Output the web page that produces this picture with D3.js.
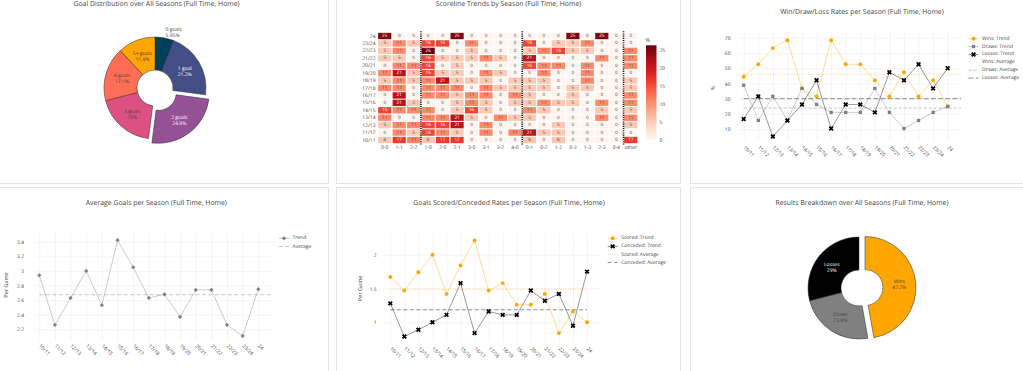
<!DOCTYPE html>
<html>
<head>
<meta charset="utf-8">
<script src="https://cdn.jsdelivr.net/npm/d3@7/dist/d3.min.js"></script>
<style>
html,body{margin:0;padding:0;background:#fff;}
svg{display:block;}
text{text-rendering:geometricPrecision;}
</style>
</head>
<body>
<svg id="chart" width="1023" height="371"></svg>
<script>
// ================= DATA =================
const seasons = ["10/11","11/12","12/13","13/14","14/15","15/16","16/17","17/18","18/19","19/20","20/21","21/22","22/23","23/24","24"];
const winRate  = [44.4,52.6,63.2,68.4,36.8,31.6,68.4,52.6,52.6,42.1,31.6,47.4,31.6,42.1,25.0];
const drawRate = [38.9,15.8,31.6,15.8,36.8,26.3,21.1,21.1,21.1,36.8,21.1,10.5,15.8,21.1,25.0];
const lossRate = [16.7,31.6,5.3,15.8,26.3,42.1,10.5,26.3,26.3,21.1,47.4,42.1,52.6,36.8,50.0];
const goalsPerGame    = [2.94,2.26,2.63,3.00,2.53,3.42,3.05,2.63,2.68,2.37,2.74,2.74,2.26,2.11,2.75];
const scoredPerGame   = [1.67,1.47,1.74,2.00,1.42,1.84,2.21,1.47,1.58,1.26,1.26,1.42,0.84,1.16,1.00];
const concededPerGame = [1.28,0.79,0.89,1.00,1.11,1.58,0.84,1.16,1.11,1.11,1.47,1.32,1.42,0.95,1.75];

const goalCategories = ["0 goals","1 goal","2 goals","3 goals","4 goals","5+ goals"];
const goalShares     = [5.95,21.2,24.9,19,17.1,11.9];
const goalColors     = ["#003f5c","#444e86","#955196","#dd5182","#ff6e54","#ffa600"];

const resultCategories = ["Wins","Draws","Losses"];
const resultShares     = [47.2,23.8,29];
const resultColors     = ["#ffa600","#808080","#000000"];

const scorelines = ["0-0","1-1","2-2","1-0","2-0","2-1","3-0","3-1","3-2","4-0","0-1","0-2","1-2","0-3","1-3","2-3","0-4","other"];
// one row per season (same order as `seasons`), one value per scoreline (%)
const scorelineShares = [
  [5.6,16.7,11.1, 5.6,16.7,16.7,0,0,0,0, 5.6,0,5.6,0,0,0,0, 16.7],
  [0,10.5,5.3, 15.8,10.5,5.3,0,10.5,0,10.5, 21.1,5.3,5.3,0,0,0,0, 0],
  [5.3,10.5,10.5, 15.8,15.8,21.1,0,10.5,0,0, 0,0,5.3,0,0,0,0, 5.3],
  [10.5,0,0, 10.5,10.5,21.1,5.3,0,10.5,5.3, 5.3,0,0,0,0,10.5,0, 10.5],
  [15.8,10.5,10.5, 10.5,0,5.3,15.8,5.3,0,0, 10.5,5.3,0,0,0,5.3,0, 5.3],
  [0,21.1,5.3, 0,0,5.3,10.5,5.3,0,5.3, 5.3,10.5,5.3,5.3,0,10.5,0, 10.5],
  [0,21.1,0, 10.5,10.5,5.3,10.5,10.5,0,10.5, 5.3,0,0,5.3,0,0,0, 10.5],
  [10.5,10.5,0, 10.5,10.5,10.5,0,10.5,5.3,5.3, 5.3,5.3,0,5.3,5.3,0,0, 5.3],
  [5.3,10.5,5.3, 10.5,21.1,5.3,5.3,5.3,0,5.3, 5.3,5.3,0,0,10.5,0,0, 5.3],
  [10.5,21.1,5.3, 15.8,5.3,5.3,0,10.5,5.3,0, 0,10.5,0,0,10.5,0,0, 0],
  [0,10.5,10.5, 15.8,0,5.3,0,0,0,0, 15.8,10.5,10.5,0,10.5,0,0, 10.5],
  [5.3,5.3,0, 15.8,5.3,5.3,5.3,10.5,5.3,0, 21.1,0,0,0,0,10.5,0, 10.5],
  [5.3,10.5,0, 26.3,0,0,5.3,0,0,0, 5.3,10.5,15.8,5.3,5.3,0,0, 10.5],
  [5.3,10.5,5.3, 15.8,15.8,0,10.5,0,0,0, 15.8,0,5.3,5.3,10.5,0,0, 0],
  [25,0,0, 0,0,25,0,0,0,0, 0,0,0,25,0,25,0, 0]
];

const rateTicks     = [10,20,30,40,50,60,70];
const goalsTicks    = [2.2,2.4,2.6,2.8,3.0,3.2,3.4];
const perGameTicks  = [1,1.5,2];
const colorbarTicks = [0,5,10,15,20,25];

// ================= SETUP =================
const svg = d3.select("#chart");
const FONT = '"Open Sans", "Noto Sans", sans-serif';
const TXT = "#444";
const GRID = "#ececec";
const ORANGE = "#ffa600";
svg.style("font-family", FONT);

// card frames
const frames = [
  [-20, -20, 348.5, 203.5], [336.5, -20, 344, 203.5], [690.5, -20, 360, 203.5],
  [-20, 187.5, 348.5, 200], [336.5, 187.5, 344, 200], [690.5, 187.5, 360, 200]
];
svg.selectAll("rect.frame").data(frames).join("rect").attr("class","frame")
  .attr("x", d => d[0]).attr("y", d => d[1]).attr("width", d => d[2]).attr("height", d => d[3])
  .attr("fill", "none").attr("stroke", "#e4e4e4").attr("stroke-width", 1);

function title(txt, x, y) {
  svg.append("text").attr("x", x).attr("y", y).attr("text-anchor", "middle")
    .attr("dominant-baseline", "central").attr("font-size", 6.9).attr("fill", TXT).text(txt);
}
title("Goal Distribution over All Seasons (Full Time, Home)", 156.5, 4);
title("Scoreline Trends by Season (Full Time, Home)", 508.5, 4);
title("Win/Draw/Loss Rates per Season (Full Time, Home)", 862, 12.7);
title("Average Goals per Season (Full Time, Home)", 156.3, 203);
title("Goals Scored/Conceded Rates per Season (Full Time, Home)", 509, 203);
title("Results Breakdown over All Seasons (Full Time, Home)", 862, 203);

function symbolPath(kind, size) {
  const t = { circle: d3.symbolCircle, square: d3.symbolSquare, x: d3.symbolCross, diamond: d3.symbolSquare }[kind];
  return d3.symbol(t, size)();
}
function symbolRot(kind) { return (kind === "x" || kind === "diamond") ? 45 : 0; }

// ================= DONUTS =================
function donut(cx, cy, r0, r1, cats, vals, cols, pullIdx, pull, outsideIdx) {
  const pie = d3.pie().sort(null).value(d => d.v);
  const arcs = pie(cats.map((c, i) => ({ c, v: vals[i], col: cols[i] })));
  const arc = d3.arc().innerRadius(r0).outerRadius(r1);
  const g = svg.append("g").attr("transform", `translate(${cx},${cy})`);
  arcs.forEach((a, i) => {
    const mid = (a.startAngle + a.endAngle) / 2;
    const off = i === pullIdx ? pull : 0;
    const sg = g.append("g").attr("transform", `translate(${Math.sin(mid) * off},${-Math.cos(mid) * off})`);
    sg.append("path").attr("d", arc(a)).attr("fill", a.data.col).attr("stroke", "#2a2a2a").attr("stroke-width", 0.5);
    const light = d3.lab(a.data.col).l > 50;
    const t = sg.append("text").attr("font-size", 5).attr("text-anchor", "middle");
    let px, py;
    if (i === outsideIdx) {
      px = Math.sin(mid) * (r1 + 6); py = -Math.cos(mid) * (r1 + 6);
      t.attr("text-anchor", "start").attr("fill", TXT);
      t.append("tspan").attr("x", px).attr("y", py - 1.3).text(a.data.c);
      t.append("tspan").attr("x", px).attr("y", py + 4.7).text(a.data.v + "%");
    } else {
      [px, py] = arc.centroid(a);
      t.attr("fill", light ? TXT : "#fff");
      t.append("tspan").attr("x", px).attr("y", py - 1).text(a.data.c);
      t.append("tspan").attr("x", px).attr("y", py + 5).text(a.data.v + "%");
    }
  });
}
donut(155, 88, 18, 51, goalCategories, goalShares, goalColors, 2, 5.5, 0);
donut(859, 288, 18, 51, resultCategories, resultShares, resultColors, 0, 6, -1);

// ================= HEATMAP =================
(function () {
  const rows = seasons.slice().reverse();
  const hx = d3.scaleBand().domain(scorelines).range([377.5, 638]).paddingInner(0.09).paddingOuter(0.045);
  const hy = d3.scaleBand().domain(rows).range([32.3, 143.7]).paddingInner(0.14).paddingOuter(0.07);
  const maxV = d3.max(scorelineShares.flat());
  const color = d3.scaleSequential(d3.interpolateReds).domain([0, maxV]);
  const cells = [];
  seasons.forEach((s, si) => scorelines.forEach((c, ci) => cells.push({ s, c, v: scorelineShares[si][ci] })));
  const g = svg.append("g");
  g.selectAll("rect").data(cells).join("rect")
    .attr("x", d => hx(d.c)).attr("y", d => hy(d.s))
    .attr("width", hx.bandwidth()).attr("height", hy.bandwidth())
    .attr("fill", d => color(d.v));
  g.selectAll("text.cell").data(cells).join("text").attr("class", "cell")
    .attr("x", d => hx(d.c) + hx.bandwidth() / 2).attr("y", d => hy(d.s) + hy.bandwidth() / 2)
    .attr("text-anchor", "middle").attr("dominant-baseline", "central")
    .attr("font-size", 4.6)
    .attr("fill", d => d.v > 13 ? "#fff" : TXT)
    .text(d => Math.round(d.v));
  // group separators (draw | win | loss | other)
  const grp = c => { const m = c.match(/^(\d+)-(\d+)$/); if (!m) return "o"; return +m[1] === +m[2] ? "d" : (+m[1] > +m[2] ? "w" : "l"); };
  const seps = scorelines.slice(1).map((c, i) => ({ c, prev: scorelines[i] })).filter(d => grp(d.c) !== grp(d.prev));
  g.selectAll("line.sep").data(seps).join("line").attr("class", "sep")
    .attr("x1", d => hx(d.c) - hx.step() * 0.045).attr("x2", d => hx(d.c) - hx.step() * 0.045)
    .attr("y1", 31.2).attr("y2", 144.8)
    .attr("stroke", "#111").attr("stroke-width", 1.6).attr("stroke-dasharray", "1.1,1.1");
  // axes
  const ax = g.append("g").attr("transform", "translate(0,143.7)")
    .call(d3.axisBottom(hx).tickSize(0).tickPadding(1.5));
  ax.select(".domain").remove();
  ax.selectAll("text").attr("font-size", 5).attr("fill", TXT).style("font-family", FONT);
  const ay = g.append("g").attr("transform", "translate(377.5,0)")
    .call(d3.axisLeft(hy).tickSize(0).tickPadding(2));
  ay.select(".domain").remove();
  ay.selectAll("text").attr("font-size", 5).attr("fill", TXT).style("font-family", FONT);
  // colorbar
  const defs = svg.append("defs");
  const grad = defs.append("linearGradient").attr("id", "redsGrad").attr("x1", 0).attr("y1", 1).attr("x2", 0).attr("y2", 0);
  d3.range(0, 1.0001, 0.05).forEach(t => grad.append("stop").attr("offset", t).attr("stop-color", d3.interpolateReds(t)));
  const cb = d3.scaleLinear().domain([0, maxV]).range([140, 45.3]);
  g.append("rect").attr("x", 646).attr("y", cb(maxV)).attr("width", 10.5).attr("height", cb(0) - cb(maxV)).attr("fill", "url(#redsGrad)");
  const cbA = g.append("g").attr("transform", "translate(656.5,0)")
    .call(d3.axisRight(cb).tickValues(colorbarTicks).tickSize(0).tickPadding(3));
  cbA.select(".domain").remove();
  cbA.selectAll("text").attr("font-size", 5).attr("fill", TXT).style("font-family", FONT);
  g.append("text").attr("x", 645.5).attr("y", 40).attr("dominant-baseline", "central")
    .attr("font-size", 5.5).attr("fill", TXT).text("%");
})();

// ================= LINE PANELS =================
function linePanel(p) {
  const g = svg.append("g");
  const x = d3.scalePoint().domain(seasons).range(p.xRange);
  const y = d3.scaleLinear().domain(p.yDomain).range([p.bottom, p.top]);
  const ya = g.append("g").attr("transform", `translate(${p.gridL},0)`)
    .call(d3.axisLeft(y).tickValues(p.ticks).tickFormat(d => String(+d.toFixed(2)))
      .tickSize(-(p.gridR - p.gridL)).tickPadding(p.yPad));
  ya.select(".domain").remove();
  ya.selectAll("line").attr("stroke", GRID).attr("stroke-width", 0.6);
  ya.selectAll("text").attr("font-size", 5).attr("fill", TXT).style("font-family", FONT);
  const xa = g.append("g").attr("transform", `translate(0,${p.bottom})`)
    .call(d3.axisBottom(x).tickSize(-(p.bottom - p.top)));
  xa.select(".domain").remove();
  xa.selectAll("line").attr("stroke", GRID).attr("stroke-width", 0.6);
  xa.selectAll("text").attr("x", 0).attr("y", 0).attr("dy", "0.35em")
    .attr("transform", `translate(0,${p.xLab}) rotate(45)`).attr("text-anchor", "start")
    .attr("font-size", 5).attr("fill", TXT).style("font-family", FONT);
  g.append("text").attr("transform", `translate(${p.yTitle[0]},${p.yTitle[1]}) rotate(-90)`)
    .attr("text-anchor", "middle").attr("dominant-baseline", "central")
    .attr("font-size", 5.5).attr("fill", TXT).text(p.yLabel);
  // averages
  p.avgs.forEach(a => {
    const v = d3.mean(a.values);
    g.append("line").attr("x1", x(seasons[0])).attr("x2", p.avgEnd).attr("y1", y(v)).attr("y2", y(v))
      .attr("stroke", a.color).attr("stroke-width", 0.9).attr("stroke-dasharray", a.dash);
  });
  // trend series
  const line = d3.line().x((d, i) => x(seasons[i])).y(d => y(d));
  p.series.forEach(s => {
    g.append("path").attr("d", line(s.values)).attr("fill", "none").attr("stroke", s.line).attr("stroke-width", 0.8);
  });
  p.series.forEach(s => {
    g.selectAll(null).data(s.values).join("path")
      .attr("d", symbolPath(s.symbol, s.size))
      .attr("transform", (d, i) => `translate(${x(seasons[i])},${y(d)}) rotate(${symbolRot(s.symbol)})`)
      .attr("fill", s.color);
  });
  // legend
  const items = p.series.map(s => ({ name: s.name, line: s.line, symbol: s.symbol, color: s.color, size: s.size }))
    .concat(p.avgs.map(a => ({ name: a.name, line: a.color, dash: a.dash })));
  items.forEach((it, i) => {
    const ly = p.legY + i * p.legDy;
    g.append("line").attr("x1", p.legX).attr("x2", p.legX + 10).attr("y1", ly).attr("y2", ly)
      .attr("stroke", it.line).attr("stroke-width", 0.9).attr("stroke-dasharray", it.dash || null);
    if (it.symbol) g.append("path").attr("d", symbolPath(it.symbol, it.size))
      .attr("transform", `translate(${p.legX + 5},${ly}) rotate(${symbolRot(it.symbol)})`).attr("fill", it.color);
    g.append("text").attr("x", p.legX + 13.5).attr("y", ly).attr("dominant-baseline", "central")
      .attr("font-size", 5).attr("fill", TXT).text(it.name);
  });
}

const ORANGE_L = "rgba(255,166,0,0.5)", GRAY_L = "rgba(128,128,128,0.5)", BLACK_L = "rgba(0,0,0,0.5)";

linePanel({
  xRange: [743.7, 947.7], gridL: 739, gridR: 961, top: 32.7, bottom: 140,
  yDomain: [3, 73.3], ticks: rateTicks, yPad: 8.5, xLab: 6.5,
  yLabel: "%", yTitle: [713, 88], avgEnd: 961,
  series: [
    { name: "Wins: Trend", values: winRate, color: ORANGE, line: ORANGE_L, symbol: "circle", size: 12 },
    { name: "Draws: Trend", values: drawRate, color: "#808080", line: GRAY_L, symbol: "square", size: 11 },
    { name: "Losses: Trend", values: lossRate, color: "#000", line: BLACK_L, symbol: "x", size: 15 }
  ],
  avgs: [
    { name: "Wins: Average", values: winRate, color: ORANGE_L, dash: "1,1.4" },
    { name: "Draws: Average", values: drawRate, color: GRAY_L, dash: "3,2" },
    { name: "Losses: Average", values: lossRate, color: BLACK_L, dash: "5,2.2" }
  ],
  legX: 968.5, legY: 38.7, legDy: 7.87
});

linePanel({
  xRange: [39.3, 258.3], gridL: 35, gridR: 273.3, top: 233.3, bottom: 341,
  yDomain: [2.04, 3.515], ticks: goalsTicks, yPad: 11, xLab: 4,
  yLabel: "Per Game", yTitle: [5.5, 285], avgEnd: 272.7,
  series: [
    { name: "Trend", values: goalsPerGame, color: "#808080", line: GRAY_L, symbol: "diamond", size: 9 }
  ],
  avgs: [
    { name: "Average", values: goalsPerGame, color: GRAY_L, dash: "4,2.5" }
  ],
  legX: 279, legY: 238.3, legDy: 8.2
});

linePanel({
  xRange: [390.3, 587], gridL: 382.7, gridR: 601, top: 233.3, bottom: 341.7,
  yDomain: [0.713, 2.317], ticks: perGameTicks, yPad: 6, xLab: 6,
  yLabel: "Per Game", yTitle: [359.5, 288.3], avgEnd: 587,
  series: [
    { name: "Scored: Trend", values: scoredPerGame, color: ORANGE, line: ORANGE_L, symbol: "circle", size: 12 },
    { name: "Conceded: Trend", values: concededPerGame, color: "#000", line: BLACK_L, symbol: "x", size: 15 }
  ],
  avgs: [
    { name: "Scored: Average", values: scoredPerGame, color: ORANGE_L, dash: "1,1.4" },
    { name: "Conceded: Average", values: concededPerGame, color: BLACK_L, dash: "4,2.5" }
  ],
  legX: 607.7, legY: 238.3, legDy: 8.1
});
</script>
</body>
</html>
